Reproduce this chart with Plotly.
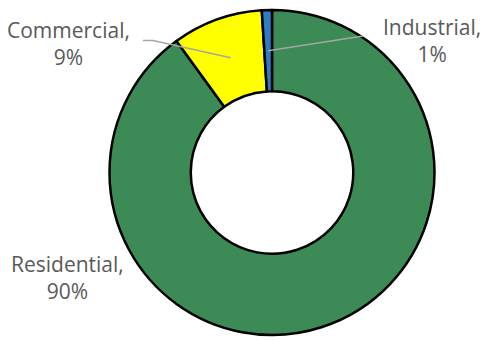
import math
import plotly.graph_objects as go

categories = ["Residential", "Commercial", "Industrial"]
values = [90, 9, 1]
colors = ["#3C8A55", "#FFFF00", "#2E7DC4"]

W, H = 485, 340
cx, cy, r = 272, 172.5, 162.5
hole = 0.5

fig = go.Figure(go.Pie(
    labels=categories, values=values, sort=False, direction="clockwise",
    rotation=0, hole=hole, textinfo="none", hoverinfo="label+percent",
    marker=dict(colors=colors, line=dict(color="#000000", width=2.5)),
    domain=dict(x=[(cx - r) / W, (cx + r) / W],
                y=[(H - cy - r) / H, (H - cy + r) / H]),
    showlegend=False,
))

total = sum(values)
label_pos = {  # label centre (px) and leader-line start (px) or None
    "Residential": ((67, 277), None),
    "Commercial": ((68, 43), [(143, 40.5), (153, 40.5)]),
    "Industrial": ((432, 40), [(363, 36)]),
}

def px2paper(x, y):
    return x / W, 1 - y / H

annotations, shapes = [], []
cum = 0
for cat, v in zip(categories, values):
    mid = (cum + v / 2) / total * 2 * math.pi
    cum += v
    (lx, ly), leader = label_pos[cat]
    pct = round(v / total * 100)
    ax, ay = px2paper(lx, ly)
    annotations.append(dict(
        x=ax, y=ay, xref="paper", yref="paper", showarrow=False,
        text=f"{cat},<br>{pct}%", align="center", xanchor="center", yanchor="middle",
        font=dict(family="Open Sans", size=21, color="#595959"),
    ))
    if leader:
        rr = r * (1 + hole) / 2
        ex, ey = cx + rr * math.sin(mid), cy - rr * math.cos(mid)
        pts = leader + [(ex, ey)]
        path = "M " + " L ".join(f"{px2paper(x, y)[0]:.5f},{px2paper(x, y)[1]:.5f}" for x, y in pts)
        shapes.append(dict(type="path", xref="paper", yref="paper", path=path,
                           line=dict(color="#A6A6A6", width=1.5)))

fig.update_layout(
    width=W, height=H, margin=dict(l=0, r=0, t=0, b=0),
    paper_bgcolor="white", plot_bgcolor="white",
    annotations=annotations, shapes=shapes,
)
fig.write_html("out.html", config={"displayModeBar": False},
               post_script="document.body.style.margin='0';")
